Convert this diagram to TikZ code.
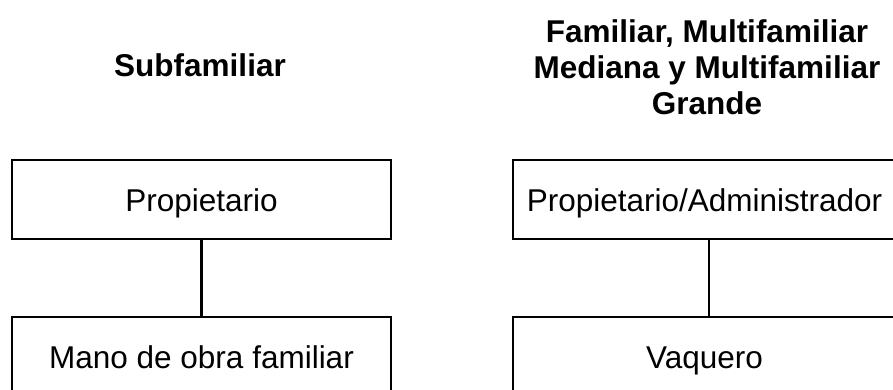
\documentclass[tikz,border=0pt]{standalone}
\usepackage{fontspec}
\setmainfont{Liberation Sans}
\begin{document}
\begin{tikzpicture}[x=1pt,y=-1pt]
\tikzset{
  box/.style={draw, line width=2.2pt, minimum height=79pt, inner sep=0pt,
    text height=26pt, text depth=3pt,
    font=\fontsize{31.5}{36}\selectfont},
  title/.style={font=\bfseries\fontsize{31.5}{36}\selectfont, align=center, inner sep=0pt},
  link/.style={line width=2.2pt}
}
\useasboundingbox (0,0) rectangle (893,390);
\clip (0,0) rectangle (893,390);
\node[title, anchor=base] (t1) at (200,77) {Subfamiliar};
\node[title] (t2) at (707,67.5) {Familiar, Multifamiliar\\Mediana y Multifamiliar\\Grande};
\node[box, minimum width=379pt] (p1) at (201.5,199.5) {Propietario};
\node[box, minimum width=379pt] (m1) at (201.5,356.5) {Mano de obra familiar};
\node[box, minimum width=383pt] (p2) at (704.5,199.5) {Propietario/Administrador};
\node[box, minimum width=383pt] (v2) at (704.5,356.5) {Vaquero};
\draw[link] (p1) -- (m1);
\draw[link] ([xshift=4.5pt]p2.south) -- ([xshift=4.5pt]v2.north);
\end{tikzpicture}
\end{document}
